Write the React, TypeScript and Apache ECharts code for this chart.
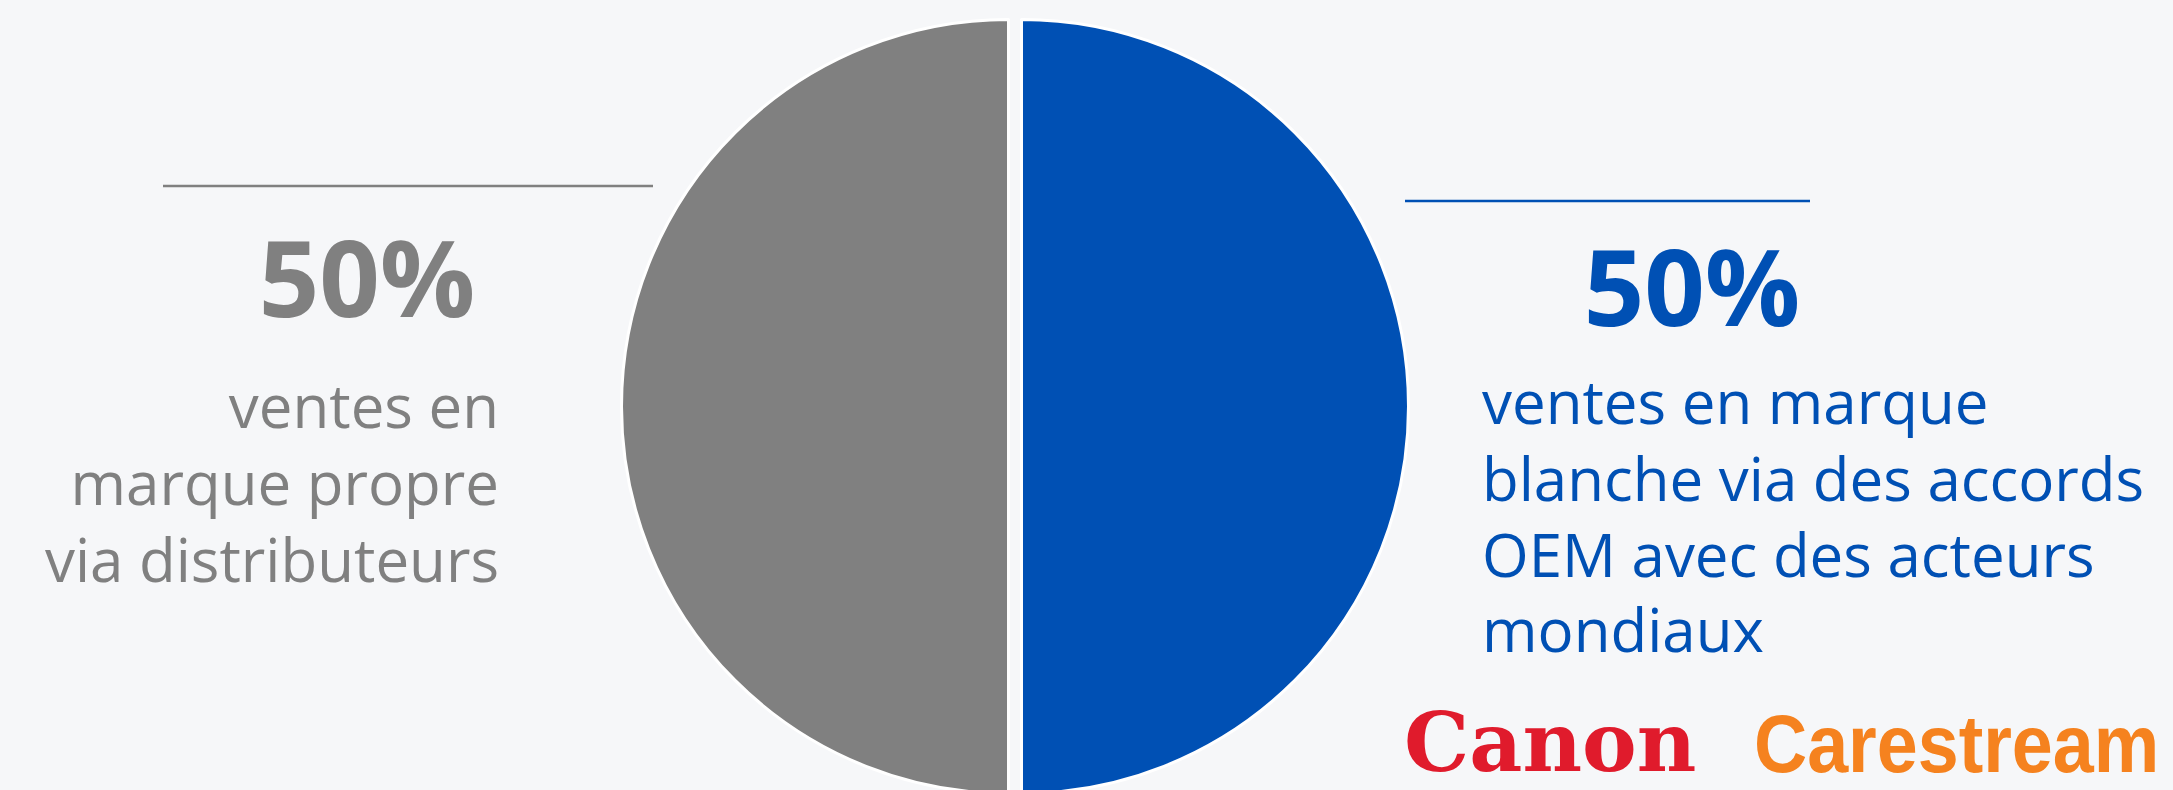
import React, { useEffect, useRef } from "react";
import * as echarts from "echarts";

const categories = ["OEM (marque blanche)", "Marque propre (distributeurs)"];
const shares = [50, 50];
const colors = ["#0050b4", "#808080"];
const leftLines = ["ventes en", "marque propre", "via distributeurs"];
const rightLines = ["ventes en marque", "blanche via des accords", "OEM avec des acteurs", "mondiaux"];
const logos = ["Canon", "Carestream"];

const W = 2173;
const H = 790;
const BG = "#f6f7f9";
const FONT = "'Open Sans', 'Noto Sans', sans-serif";

export default function App() {
  const ref = useRef<HTMLDivElement>(null);
  useEffect(() => {
    document.body.style.margin = "0";
    const chart = echarts.init(ref.current!, null, { renderer: "svg", width: W, height: H });
    const leftBase = [428, 505, 582];
    const rightBase = [424, 501, 577, 652];
    const graphic: any[] = [
      { type: "line", shape: { x1: 163, y1: 186, x2: 653, y2: 186 }, style: { stroke: colors[1], lineWidth: 2.5 } },
      { type: "line", shape: { x1: 1405, y1: 201, x2: 1810, y2: 201 }, style: { stroke: colors[0], lineWidth: 2.5 } },
      {
        type: "text", x: 367, y: 276,
        style: { text: `${shares[1]}%`, fill: colors[1], font: `bold 106px ${FONT}`, textAlign: "center", textVerticalAlign: "middle" },
      },
      {
        type: "text", x: 1692, y: 285,
        style: { text: `${shares[0]}%`, fill: colors[0], font: `bold 106px ${FONT}`, textAlign: "center", textVerticalAlign: "middle" },
      },
      ...leftLines.map((t, i) => ({
        type: "text", x: 499, y: leftBase[i] - 23,
        style: { text: t, fill: colors[1], font: `60px ${FONT}`, textAlign: "right", textVerticalAlign: "middle" },
      })),
      ...rightLines.map((t, i) => ({
        type: "text", x: 1482, y: rightBase[i] - 23,
        style: { text: t, fill: colors[0], font: `60px ${FONT}`, textAlign: "left", textVerticalAlign: "middle" },
      })),
      {
        type: "text", x: 1404, y: 742,
        style: { text: logos[0], fill: "#e01b2c", font: `bold 82px 'DejaVu Serif', serif`, textAlign: "left", textVerticalAlign: "middle", lineHeight: 60 },
      },
      {
        type: "text", x: 1754, y: 744, scaleX: 0.898,
        style: { text: logos[1], fill: "#f5821f", font: `bold 82px 'Liberation Sans', sans-serif`, textAlign: "left", textVerticalAlign: "middle", lineHeight: 60 },
      },
    ];
    chart.setOption({
      animation: false,
      backgroundColor: BG,
      graphic,
      series: [
        {
          type: "pie",
          center: [1015, 406.5],
          radius: [0, 387],
          startAngle: 90,
          clockwise: true,
          selectedMode: "multiple",
          selectedOffset: 6.5,
          label: { show: false },
          labelLine: { show: false },
          emphasis: { disabled: true },
          itemStyle: { borderColor: "#ffffff", borderWidth: 3 },
          data: shares.map((v, i) => ({
            name: categories[i],
            value: v,
            selected: true,
            itemStyle: { color: colors[i] },
          })),
        },
      ],
    });
    return () => chart.dispose();
  }, []);
  return <div ref={ref} style={{ position: "fixed", left: 0, top: 0, width: W + "px", height: H + "px" }} />;
}
